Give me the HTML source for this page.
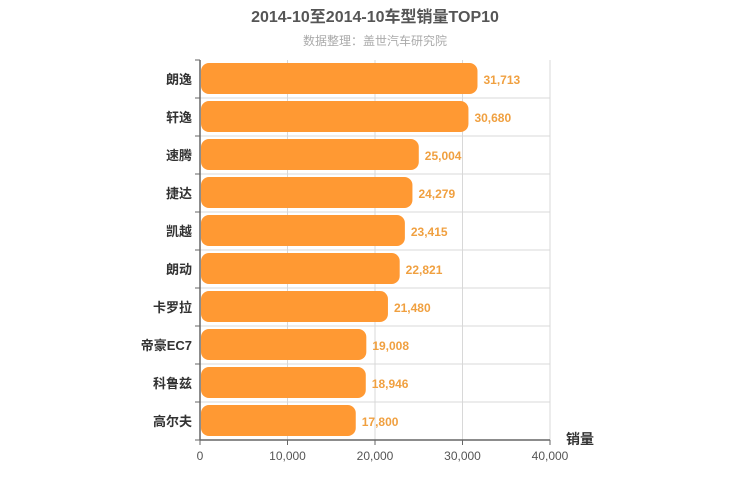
<!DOCTYPE html>
<html><head><meta charset="utf-8"><style>
body{margin:0;background:#fff;}
svg{display:block;font-family:"Liberation Sans","Noto Sans CJK SC",sans-serif;}
</style></head><body>
<svg id="chart" width="750" height="500">
<text x="375" y="22" text-anchor="middle" font-size="16" font-weight="bold" fill="#555">2014-10至2014-10车型销量TOP10</text>
<text x="375" y="45" text-anchor="middle" font-size="12" fill="#aaa">数据整理：盖世汽车研究院</text>
<g id="grid"></g><g id="bars"></g><g id="axes"></g>
<text x="580" y="444" text-anchor="middle" font-size="14" font-weight="bold" fill="#333">销量</text>
</svg>
<script>
const categories=["朗逸","轩逸","速腾","捷达","凯越","朗动","卡罗拉","帝豪EC7","科鲁兹","高尔夫"];
const values=[31713,30680,25004,24279,23415,22821,21480,19008,18946,17800];
const ticks=[0,10000,20000,30000,40000];
const NS="http://www.w3.org/2000/svg";
const x0=200,x1=550,y0=60,y1=440,maxV=40000;
const xs=v=>x0+(v/maxV)*(x1-x0);
const rowH=(y1-y0)/categories.length;
const ys=i=>y0+i*rowH;
function mk(tag,attrs,parent){const e=document.createElementNS(NS,tag);for(const k in attrs)e.setAttribute(k,attrs[k]);parent.appendChild(e);return e;}
const grid=document.getElementById('grid'),bars=document.getElementById('bars'),axes=document.getElementById('axes');
ticks.forEach((t,i)=>{
 if(t>0){const l=mk('line',{x1:xs(t),x2:xs(t),y1:y0,y2:y1,stroke:'#d8d8d8'},grid);
 
 }
 const tk=mk('line',{x1:xs(t),x2:xs(t),y1:y1,y2:y1+5,stroke:'#666'},axes);
 
 
 const tx=mk('text',{x:xs(t),y:y1+20,'text-anchor':'middle','font-size':12,fill:'#555'},axes);
 tx.textContent=t.toLocaleString('en-US');
 
 
});
categories.forEach((c,i)=>{
 const y=ys(i);
 if(i>0){const g=mk('line',{x1:x0,x2:x1,y1:y,y2:y,stroke:'#d8d8d8'},grid);
 
 }
 const tk=mk('line',{x1:x0-5,x2:x0,y1:y,y2:y,stroke:'#666'},axes);
 
 
 const r=mk('rect',{x:x0+1,y:y+3,width:xs(values[i])-x0-1,height:rowH-7,rx:8,ry:8,fill:'#ff9933'},bars);
 
 
 const v=mk('text',{x:xs(values[i])+6,y:y+rowH/2+5,'font-size':12,'font-weight':'bold',fill:'#f0a040'},bars);
 v.textContent=values[i].toLocaleString('en-US');
 
 
 const l=mk('text',{x:x0-8,y:y+rowH/2+5,'text-anchor':'end','font-size':13,'font-weight':'bold',fill:'#333'},axes);
 l.textContent=c;
 
 
});
const lt=mk('line',{x1:x0-5,x2:x0,y1:y1,y2:y1,stroke:'#666'},axes);


const ya=mk('line',{x1:x0,x2:x0,y1:y0,y2:y1,stroke:'#666','stroke-width':1.5},axes);


const xa=mk('line',{x1:x0,x2:x1,y1:y1,y2:y1,stroke:'#666','stroke-width':1.5},axes);


</script>
</body></html>
